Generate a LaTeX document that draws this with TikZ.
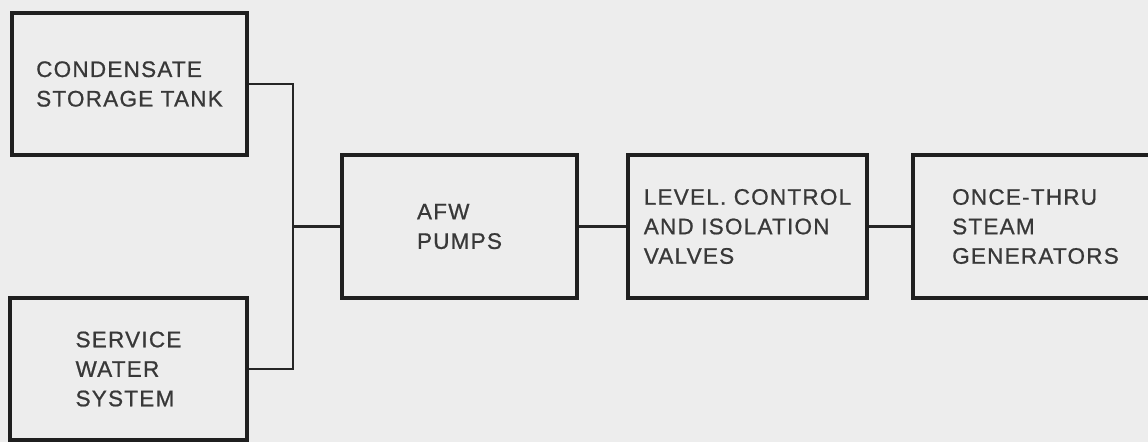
\documentclass[tikz,border=0pt]{standalone}
\usepackage{fontspec}
\setmainfont[LetterSpace=5.5,FakeBold=0.8]{Liberation Sans}
\begin{document}
\begin{tikzpicture}[x=1pt,y=-1pt,
  blk/.style={draw=black!88,line width=4pt,rectangle,minimum height=143pt,
    align=left,font=\fontsize{22.5}{29.5}\selectfont,text=black!78,inner sep=0pt},
  wire/.style={draw=black!85,line width=2.4pt}]
\fill[black!7] (0,0) rectangle (1148,442);
\useasboundingbox (0,0) rectangle (1148,442);
\clip (0,0) rectangle (1148,442);
\node[blk,minimum width=235pt,minimum height=142pt] (cond) at (129.5,84) {CONDENSATE\\STORAGE TANK};
\node[blk,minimum width=237pt,minimum height=142pt] (serv) at (128.5,369) {SERVICE\\WATER\\SYSTEM};
\node[blk,minimum width=235pt] (afw) at (459.5,226.5) {AFW\\PUMPS};
\node[blk,minimum width=239pt] (lvl) at (747.5,226.5) {LEVEL. CONTROL\\AND ISOLATION\\VALVES};
\node[blk,minimum width=245pt] (otsg) at (1035.5,226.5) {ONCE-THRU\\STEAM\\GENERATORS};
\coordinate (j) at (293,226.5);
\draw[wire] (cond.east) -| (j) |- (serv.east);
\draw[wire] (j) -- (afw.west);
\draw[wire] (afw.east) -- (lvl.west);
\draw[wire] (lvl.east) -- (otsg.west);
\end{tikzpicture}
\end{document}
